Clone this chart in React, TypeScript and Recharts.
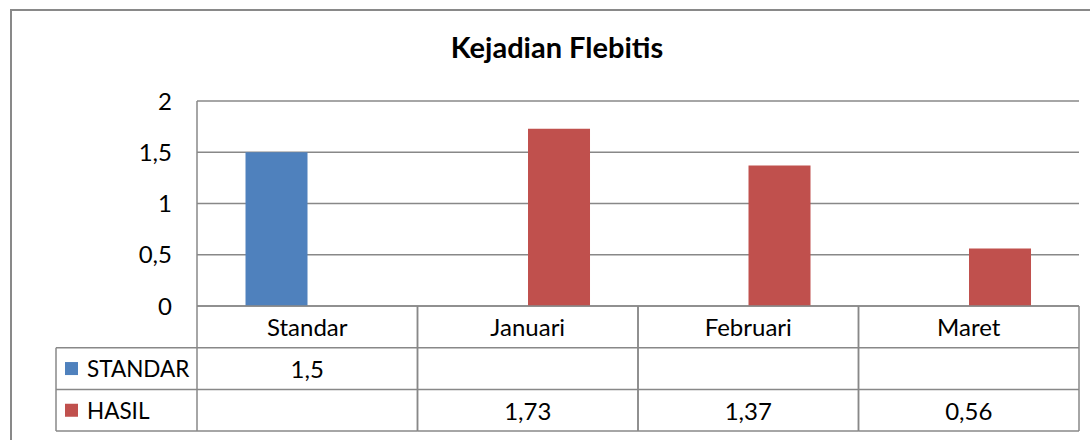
import { BarChart, Bar, XAxis, YAxis, CartesianGrid } from 'recharts';

const categories = ['Standar', 'Januari', 'Februari', 'Maret'];
const standarValues = [1.5, null, null, null];
const hasilValues = [null, 1.73, 1.37, 0.56];
const yTicks = [0, 0.5, 1, 1.5, 2];

const seriesRows = [
  { key: 'standar', name: 'STANDAR', color: '#4F81BD', values: standarValues },
  { key: 'hasil', name: 'HASIL', color: '#C0504D', values: hasilValues },
];

const data = categories.map((name, i) => ({
  name,
  standar: standarValues[i],
  hasil: hasilValues[i],
}));

const W = 1090;
const H = 440;
const X_AXIS_H = 30;
const M = { top: 101, right: 11, bottom: 134 - X_AXIS_H, left: 137 };
const Y_AXIS_W = 60;
const BAND = (W - M.left - M.right - Y_AXIS_W) / categories.length;
const ROW_H = 41.7;
const LEGEND_W = 141;
const LINE = '#888888';
const FONT = 'Lato, "Open Sans", sans-serif';

const fmt = (v: number | null) => (v == null ? '' : String(v).replace('.', ','));

function TableTick(props: any) {
  const { x, y, payload } = props;
  const idx = payload.index;
  const left = x - BAND / 2;
  const right = x + BAND / 2;
  const bottom = y + ROW_H * (seriesRows.length + 1);
  return (
    <g fontFamily={FONT} fontSize={24} fill="#000">
      <line x1={left} x2={left} y1={y} y2={bottom} stroke={LINE} strokeWidth={1.5} />
      <line x1={right} x2={right} y1={y} y2={bottom} stroke={LINE} strokeWidth={1.5} />
      <text x={x} y={y + ROW_H / 2} textAnchor="middle" dominantBaseline="central">
        {payload.value}
      </text>
      {seriesRows.map((r, i) => (
        <g key={r.key}>
          <line x1={left} x2={right} y1={y + ROW_H * (i + 1)} y2={y + ROW_H * (i + 1)} stroke={LINE} strokeWidth={1.5} />
          <text x={x} y={y + ROW_H * (i + 1.5)} textAnchor="middle" dominantBaseline="central">
            {fmt(r.values[idx])}
          </text>
        </g>
      ))}
      <line x1={left} x2={right} y1={bottom} y2={bottom} stroke={LINE} strokeWidth={1.5} />
      {idx === 0 && (
        <g>
          <line x1={left - LEGEND_W} x2={left - LEGEND_W} y1={y + ROW_H} y2={bottom} stroke={LINE} strokeWidth={1.5} />
          {seriesRows.map((r, i) => (
            <g key={r.key}>
              <line x1={left - LEGEND_W} x2={left} y1={y + ROW_H * (i + 1)} y2={y + ROW_H * (i + 1)} stroke={LINE} strokeWidth={1.5} />
              <rect x={left - LEGEND_W + 9} y={y + ROW_H * (i + 1.5) - 6.5} width={13} height={13} fill={r.color} />
              <text x={left - LEGEND_W + 31} y={y + ROW_H * (i + 1.5)} dominantBaseline="central" fontSize={22.5}>
                {r.name}
              </text>
            </g>
          ))}
          <line x1={left - LEGEND_W} x2={left} y1={bottom} y2={bottom} stroke={LINE} strokeWidth={1.5} />
        </g>
      )}
    </g>
  );
}

export default function App() {
  return (
    <div style={{ position: 'absolute', left: 0, top: 0, width: W, height: H, overflow: 'hidden', background: '#fff' }}>
      <div
        style={{
          position: 'absolute',
          left: 10,
          top: 9,
          width: W,
          height: H,
          border: '2px solid #898989',
          boxSizing: 'border-box',
        }}
      />
      <div
        style={{
          position: 'absolute',
          left: 0,
          width: W + 24,
          top: 29,
          textAlign: 'center',
          fontFamily: FONT,
          fontWeight: 700,
          fontSize: 29,
        }}
      >
        Kejadian Flebitis
      </div>
      <div style={{ position: 'absolute', left: 0, top: 0 }}>
        <BarChart width={W} height={H} data={data} margin={M} barCategoryGap="22%" barGap={0}>
          <CartesianGrid horizontal vertical={false} stroke={LINE} strokeWidth={1.5} />
          <XAxis
            dataKey="name"
            height={X_AXIS_H}
            interval={0}
            tickSize={0}
            tickMargin={0}
            tickLine={false}
            axisLine={{ stroke: LINE, strokeWidth: 1.5 }}
            tick={<TableTick />}
          />
          <YAxis
            width={Y_AXIS_W}
            domain={[0, 2]}
            ticks={yTicks}
            tickFormatter={(v: number) => fmt(v)}
            tickSize={0}
            tickMargin={25}
            tickLine={false}
            axisLine={{ stroke: LINE, strokeWidth: 1.5 }}
            tick={{ fill: '#000', fontSize: 24, fontFamily: FONT }}
          />
          {seriesRows.map((r) => (
            <Bar key={r.key} dataKey={r.key} name={r.name} fill={r.color} isAnimationActive={false} />
          ))}
        </BarChart>
      </div>
    </div>
  );
}
